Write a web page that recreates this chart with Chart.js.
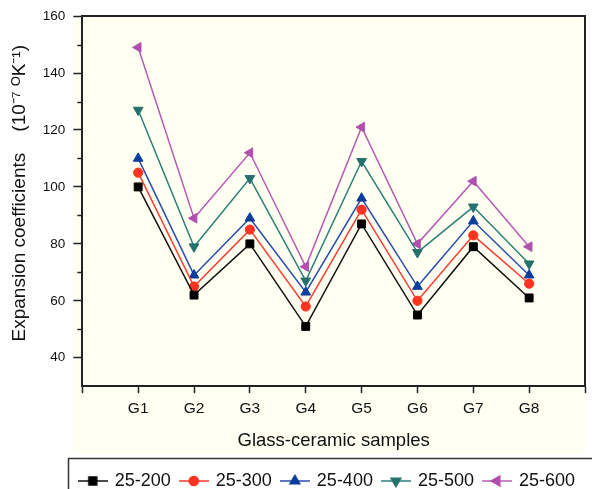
<!DOCTYPE html>
<html>
<head>
<meta charset="utf-8">
<script src="https://cdn.jsdelivr.net/npm/chart.js@4"></script>
<style>
  html, body { margin: 0; padding: 0; background: #fff; }
</style>
</head>
<body>
<canvas id="expChart" width="592" height="489"></canvas>
<script>
// Data
const samples = ['G1', 'G2', 'G3', 'G4', 'G5', 'G6', 'G7', 'G8'];
const s25_200 = [100, 62, 80, 51, 87, 55, 79, 61];
const s25_300 = [105, 65, 85, 58, 92, 60, 83, 66];
const s25_400 = [110, 69, 89, 63, 96, 65, 88, 69];
const s25_500 = [127, 79, 103, 67, 109, 77, 93, 73];
const s25_600 = [149, 89, 112, 72, 121, 80, 102, 79];
const seriesNames = ['25-200', '25-300', '25-400', '25-500', '25-600'];
const yLabelTicks = [40, 60, 80, 100, 120, 140, 160];

const FONT = "'Liberation Sans', Arial, Helvetica, sans-serif";
const AXIS = '#222';
const CREAM = '#fffff2';

// series styles
const styles = [
  { line: '#111111', fill: '#000000', point: 'rect', rot: 0, r: 5.6 },
  { line: '#ff3b2f', fill: '#ff3322', point: 'circle', rot: 0, r: 4.6 },
  { line: '#2a4db0', fill: '#0b3d9c', point: 'triangle', rot: 0, r: 5.6 },
  { line: '#2c7f7a', fill: '#24716d', point: 'triangle', rot: 180, r: 5.6 },
  { line: '#b85bb6', fill: '#b04fae', point: 'triangle', rot: 270, r: 5.6 }
];
const seriesValues = [s25_200, s25_300, s25_400, s25_500, s25_600];

// small legend icons: line with marker in the middle
function makeIcon(st) {
  const c = document.createElement('canvas');
  c.width = 30; c.height = 14;
  const g = c.getContext('2d');
  g.strokeStyle = st.line;
  g.lineWidth = 1.5;
  g.beginPath(); g.moveTo(0, 7); g.lineTo(30, 7); g.stroke();
  g.fillStyle = st.fill;
  g.strokeStyle = st.fill;
  Chart.helpers.drawPoint(g, { pointStyle: st.point, radius: st.r, rotation: st.rot, borderWidth: 1 }, 15, 7);
  return c;
}
const legendIcons = styles.map(makeIcon);

const datasets = seriesNames.map((name, i) => ({
  label: name,
  data: samples.map((s, j) => ({ x: j + 1, y: seriesValues[i][j] })),
  borderColor: styles[i].line,
  borderWidth: 1.5,
  backgroundColor: styles[i].fill,
  pointBackgroundColor: styles[i].fill,
  pointBorderColor: styles[i].fill,
  pointBorderWidth: 1,
  pointStyle: styles[i].point,
  pointRotation: styles[i].rot,
  pointRadius: styles[i].r,
  tension: 0,
  fill: false
}));

const isLabelTick = v => yLabelTicks.includes(v);

// cream panel, frame, minor ticks, legend box
const decor = {
  id: 'decor',
  beforeDraw(chart) {
    const ctx = chart.ctx;
    const a = chart.chartArea;
    ctx.save();
    ctx.fillStyle = '#fff';
    ctx.fillRect(0, 0, chart.width, chart.height);
    ctx.fillStyle = CREAM;
    ctx.fillRect(73, a.top, a.right - 73, 453 - a.top);
    ctx.restore();
  },
  afterDraw(chart) {
    const ctx = chart.ctx;
    const a = chart.chartArea;
    const y = chart.scales.y;
    ctx.save();
    ctx.strokeStyle = AXIS;
    ctx.lineWidth = 2;
    ctx.beginPath();
    ctx.moveTo(a.left, a.top);
    ctx.lineTo(a.right, a.top);
    ctx.lineTo(a.right, a.bottom);
    ctx.stroke();
    // minor ticks
    ctx.lineWidth = 1.5;
    for (let v = 50; v < 160; v += 20) {
      const py = Math.round(y.getPixelForValue(v)) + 0.5;
      ctx.beginPath();
      ctx.moveTo(a.left - 5, py);
      ctx.lineTo(a.left, py);
      ctx.stroke();
    }
    // legend frame
    ctx.lineWidth = 1.5;
    ctx.strokeStyle = '#333';
    ctx.strokeRect(68.5, 458.5, 600, 100);
    ctx.restore();
  }
};

new Chart(document.getElementById('expChart'), {
  type: 'line',
  data: { datasets: datasets },
  options: {
    responsive: false,
    animation: false,
    events: [],
    layout: { padding: { top: 15, right: 7, left: 4, bottom: -11 } },
    plugins: {
      legend: {
        position: 'bottom',
        align: 'end',
        labels: {
          usePointStyle: true,
          pointStyleWidth: 26,
          padding: 10,
          color: '#111',
          font: { family: FONT, size: 18 },
          generateLabels: (chart) => chart.data.datasets.map((ds, i) => ({
            text: ds.label,
            pointStyle: legendIcons[i],
            fillStyle: styles[i].fill,
            strokeStyle: styles[i].line,
            lineWidth: 0,
            hidden: false,
            datasetIndex: i,
            fontColor: '#111'
          }))
        }
      },
      tooltip: { enabled: false }
    },
    scales: {
      x: {
        type: 'linear',
        min: 0,
        max: 9,
        ticks: {
          stepSize: 1,
          color: '#111',
          font: { family: FONT, size: 15.5 },
          padding: 6,
          maxRotation: 0,
          callback: v => samples[v - 1] || ''
        },
        grid: { drawOnChartArea: false, tickLength: 7, tickColor: AXIS, tickWidth: 1.5 },
        border: { color: AXIS, width: 2 },
        title: {
          display: true,
          text: 'Glass-ceramic samples',
          color: '#111',
          font: { family: FONT, size: 18.5 },
          padding: { top: 6, bottom: 10 }
        }
      },
      y: {
        min: 30,
        max: 160,
        ticks: {
          stepSize: 10,
          color: '#111',
          font: { family: FONT, size: 13.5 },
          padding: 8,
          autoSkip: false,
          callback: v => isLabelTick(v) ? String(v) : ''
        },
        grid: {
          drawOnChartArea: false,
          tickLength: 9,
          tickWidth: 1.5,
          tickColor: c => (c.tick && isLabelTick(c.tick.value)) ? AXIS : 'rgba(0,0,0,0)'
        },
        border: { color: AXIS, width: 2 },
        title: {
          display: true,
          text: '   Expansion coefficients    (10\u207B\u2077 \u1D3CK\u207B\u00B9)',
          color: '#111',
          font: { family: FONT, size: 19 },
          padding: { top: 4, bottom: 4 }
        }
      }
    }
  },
  plugins: [decor]
});
</script>
</body>
</html>
